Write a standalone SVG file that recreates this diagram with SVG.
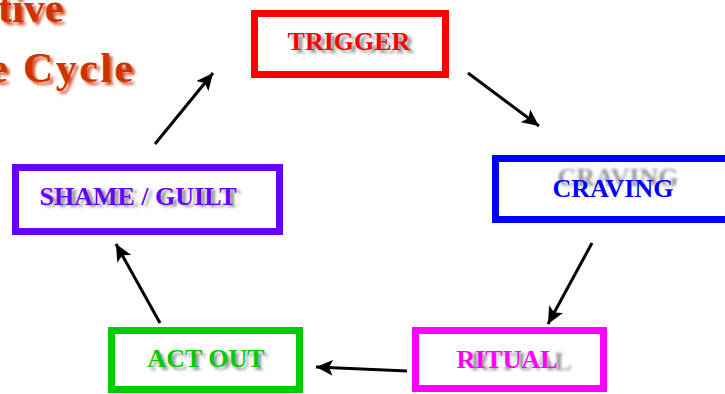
<svg xmlns="http://www.w3.org/2000/svg" width="725" height="394" viewBox="0 0 725 394">
  <defs>
    <filter id="soft" x="-10%" y="-40%" width="120%" height="180%">
      <feGaussianBlur stdDeviation="1.6"/>
    </filter>
    <marker id="head" markerUnits="userSpaceOnUse" markerWidth="18" markerHeight="16" refX="17" refY="8" orient="auto">
      <path d="M0,0 L17,8 L0,16 L4,8 Z" fill="#000"/>
    </marker>
  </defs>
  <style>
    text { font-family: "Liberation Serif", "Times New Roman", serif; font-weight: bold; }
    .lbl { font-size: 26px; text-anchor: middle; }
    .shadow { fill: #808080; filter: url(#soft); opacity: 0.85; }
    .box { fill: #fff; stroke-width: 7; }
    .title { font-size: 42px; fill: #cc3300; }
    .conn line { stroke: #000; stroke-width: 3; marker-end: url(#head); }
  </style>
  <rect width="725" height="394" fill="#fff"/>

  <!-- heading -->
  <g id="heading">
    <text class="title shadow" x="1" y="25">tive</text>
    <text class="title" x="-2" y="22">tive</text>
    <text class="title shadow" x="-8" y="85" textLength="144" lengthAdjust="spacing">e Cycle</text>
    <text class="title" x="-11" y="82" textLength="144" lengthAdjust="spacing">e Cycle</text>
  </g>

  <!-- stages of the cycle -->
  <g id="trigger">
    <rect class="box" x="254.5" y="13.5" width="191" height="61" stroke="#ff0000"/>
    <text class="lbl shadow" x="353" y="53">TRIGGER</text>
    <text class="lbl" x="349" y="50" fill="#ff0000">TRIGGER</text>
  </g>

  <g id="craving">
    <rect class="box" x="495.5" y="158.5" width="240" height="61" stroke="#0000ff"/>
    <text class="lbl shadow" x="618" y="186">CRAVING</text>
    <text class="lbl" x="613" y="197" fill="#0000ff">CRAVING</text>
  </g>

  <g id="ritual">
    <rect class="box" x="415.5" y="330.5" width="188" height="58" stroke="#ff00ff"/>
    <text class="lbl shadow" x="521" y="370">RITUAL</text>
    <text class="lbl" x="507" y="368" fill="#ff00ff">RITUAL</text>
  </g>

  <g id="act-out">
    <rect class="box" x="111.5" y="330.5" width="188" height="59" stroke="#00cc00"/>
    <text class="lbl shadow" x="209" y="370">ACT OUT</text>
    <text class="lbl" x="206" y="367" fill="#00cc00">ACT OUT</text>
  </g>

  <g id="shame-guilt">
    <rect class="box" x="15.5" y="167.5" width="264" height="64" stroke="#6600ff"/>
    <text class="lbl shadow" x="142" y="207">SHAME / GUILT</text>
    <text class="lbl" x="138" y="205" fill="#6600ff">SHAME / GUILT</text>
  </g>

  <!-- connectors -->
  <g id="connectors" class="conn">
    <line x1="155" y1="144" x2="213" y2="73"/>
    <line x1="468" y1="73" x2="539" y2="126"/>
    <line x1="592" y1="243" x2="548" y2="324"/>
    <line x1="407" y1="371" x2="316" y2="367"/>
    <line x1="160" y1="323" x2="116" y2="244"/>
  </g>
</svg>
